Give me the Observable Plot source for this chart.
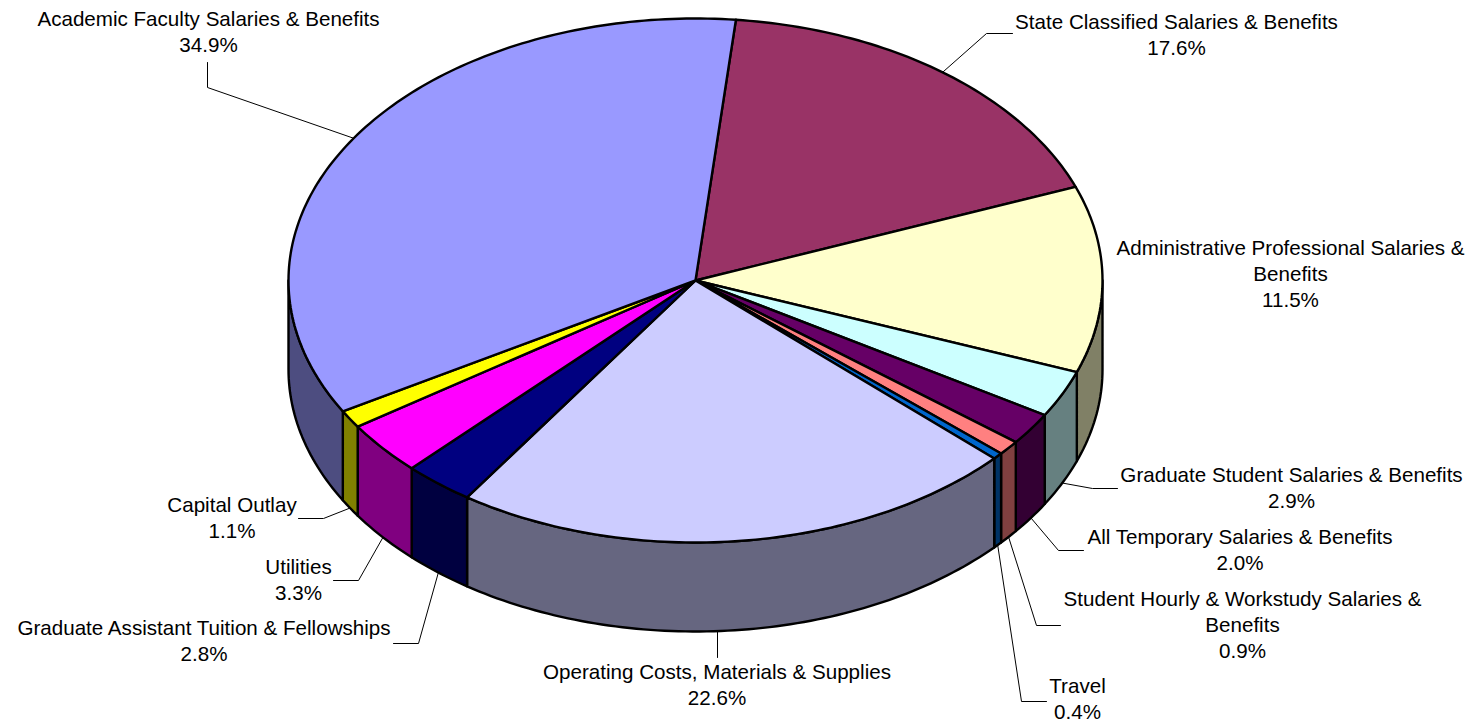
<!DOCTYPE html>
<html><head><meta charset="utf-8">
<script src="https://cdn.jsdelivr.net/npm/d3@7"></script>
<script src="https://cdn.jsdelivr.net/npm/@observablehq/plot@0.6"></script>
<style>html,body{margin:0;padding:0;background:#fff;overflow:hidden}svg{display:block}</style>
</head><body><div id="chart"></div>
<script>
const labelLines = ["State Classified Salaries & Benefits","Administrative Professional Salaries &\nBenefits","Graduate Student Salaries & Benefits","All Temporary Salaries & Benefits","Student Hourly & Workstudy Salaries &\nBenefits","Travel","Operating Costs, Materials & Supplies","Graduate Assistant Tuition & Fellowships","Utilities","Capital Outlay","Academic Faculty Salaries & Benefits"];
const shares = [17.6,11.5,2.9,2.0,0.9,0.4,22.6,2.8,3.3,1.1,34.9];
const colors = ["#993366","#FFFFCC","#CCFFFF","#660066","#FF8080","#0066CC","#CCCCFF","#000080","#FF00FF","#FFFF00","#9999FF"];
// layout (in px-like scale units)
const W=1472,H=723,cx=695,cy=280,rx=407,ry=262,depth=89,startDeg=5.7,lineStep=26;
const labelX = [1176,1290,1291,1239.5,1242,1077,716.5,203.5,298,231.5,208];
const labelFirstY = [20,246,473,535,597,684,670,626,565,503,17];
const elbows = [[[1012,33],[986,33]],null,[[1117,488],[1092,488]],[[1083,550],[1058,550]],[[1060,625],[1036,625]],[[1046,701],[1021,701]],[[717,657]],[[393,643],[418,643]],[[333,580],[358,580]],[[298,518],[323,518]],[[207,62],[207,87]]];

const rad = d=>d*Math.PI/180;
const pt = (deg,dz=0)=>({x:cx+rx*Math.sin(rad(deg)), y:cy-ry*Math.cos(rad(deg))+dz});
const darken = c=>{const r=d3.rgb(c);return d3.rgb(r.r/2,r.g/2,r.b/2).formatHex();};
let acc=startDeg;
const slices = shares.map((s,i)=>{const a=acc,b=acc+s*3.6;acc=b;return {i,a,b,mid:(a+b)/2,color:colors[i]};});
const arc=(a,b,dz=0)=>{const n=Math.max(2,Math.ceil((b-a)/1));return d3.range(n+1).map(k=>pt(a+(b-a)*k/n,dz));};
const tops=slices.flatMap(s=>[{x:cx,y:cy},...arc(s.a,s.b)].map(p=>({...p,key:"t"+s.i,fill:s.color})));
const walls=slices.flatMap(s=>{
  const out=[];
  for(const [lo,hi] of [[90,270],[450,630]]){
    const a=Math.max(s.a,lo),b=Math.min(s.b,hi);
    if(b>a) out.push(...[...arc(a,b),...arc(a,b,depth).reverse()].map(p=>({...p,key:"w"+s.i+lo,fill:darken(s.color)})));
  }
  return out;});
const leaders=slices.flatMap(s=>{
  const e=elbows[s.i]; if(!e) return [];
  const m=((s.mid%360)+360)%360;
  const end=pt(s.mid,(m>90&&m<270)?depth:0);
  const tail=s.i===6?{x:e[0][0],y:631}:end;
  return [...e.map(([x,y])=>({x,y})),tail].map(p=>({...p,key:s.i}));
});
const labels=slices.map(s=>{
  const text=labelLines[s.i]+"\n"+shares[s.i].toFixed(1)+"%";
  const n=text.split("\n").length;
  return {x:labelX[s.i],y:labelFirstY[s.i]+(n-1)*lineStep/2,text};
});

const plot=Plot.plot({
  width:W,height:H,margin:0,
  x:{domain:[0,W],range:[0,W],axis:null},
  y:{domain:[0,H],range:[0,H],axis:null},
  color:{type:"identity"},
  style:{background:"#fff"},
  marks:[
    Plot.line(leaders,{x:"x",y:"y",z:"key",stroke:"#000",strokeWidth:1}),
    Plot.line(walls,{x:"x",y:"y",z:"key",fill:"fill",stroke:"#000",strokeWidth:2.4,curve:"linear-closed",strokeLinejoin:"round"}),
    Plot.line(tops,{x:"x",y:"y",z:"key",fill:"fill",stroke:"#000",strokeWidth:2.4,curve:"linear-closed",strokeLinejoin:"round"}),
    Plot.text(labels,{x:"x",y:"y",text:"text",textAnchor:"middle",lineAnchor:"middle",lineHeight:lineStep/20.6,fontSize:20.6,fontFamily:"'Liberation Sans',Arial,sans-serif",fill:"#000"})
  ]
});
document.getElementById("chart").append(plot);
</script></body></html>
